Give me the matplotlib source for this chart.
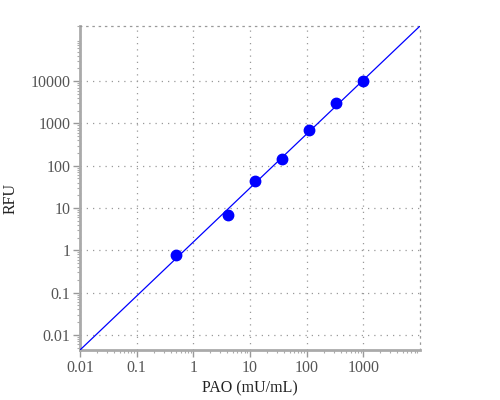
import numpy as np
import matplotlib
matplotlib.use("Agg")
import matplotlib.pyplot as plt
from matplotlib.ticker import LogLocator, FixedLocator, FixedFormatter, NullFormatter

pao = [0.49, 4.1, 12.3, 37, 111, 333, 1000]
rfu = [0.76, 6.8, 43.6, 141, 700, 2985, 10000]
xticks = [0.01, 0.1, 1, 10, 100, 1000]
xticklabels = ["0.01", "0.1", "1", "10", "100", "1000"]
yticks = [0.01, 0.1, 1, 10, 100, 1000, 10000]
yticklabels = ["0.01", "0.1", "1", "10", "100", "1000", "10000"]

plt.rcParams['font.family'] = ['Liberation Serif', 'DejaVu Serif']

fig = plt.figure(figsize=(5, 4), dpi=100)
ax = fig.add_axes([0.16, 0.125, 0.68, 0.81])
ax.set_xscale('log')
ax.set_yscale('log')

b, a = np.polyfit(np.log10(pao), np.log10(rfu), 1)
xl = np.array([0.01, 10000.0])
yl = 10 ** (a + b * np.log10(xl))
ax.plot(xl, yl, color='#0000ff', lw=0.9, zorder=3)
ax.plot(pao, rfu, 'o', color='#0000ff', ms=7.5, zorder=4)

ax.set_xlim(xl[0], xl[1])
ax.set_ylim(yl[0], yl[1])

ax.xaxis.set_major_locator(FixedLocator(xticks))
ax.xaxis.set_major_formatter(FixedFormatter(xticklabels))
ax.yaxis.set_major_locator(FixedLocator(yticks))
ax.yaxis.set_major_formatter(FixedFormatter(yticklabels))
ax.xaxis.set_minor_locator(LogLocator(base=10, subs=np.arange(2, 10), numticks=50))
ax.yaxis.set_minor_locator(LogLocator(base=10, subs=np.arange(2, 10), numticks=50))
ax.xaxis.set_minor_formatter(NullFormatter())
ax.yaxis.set_minor_formatter(NullFormatter())

ax.grid(True, which='major', color='#999999', linestyle=(0, (1, 4)), lw=0.9)
for s in ['left', 'bottom']:
    ax.spines[s].set_color('#aaaaaa')
    ax.spines[s].set_linewidth(2)
for s in ['top', 'right']:
    ax.spines[s].set_color('#999999')
    ax.spines[s].set_linestyle((0, (1, 4)))
    ax.spines[s].set_linewidth(0.9)

ax.tick_params(which='major', length=5, width=1, color='#999999', labelsize=11.5, labelcolor='#555555', pad=2)
ax.tick_params(which='minor', length=2.5, width=0.8, color='#aaaaaa')

ax.set_xlabel('PAO (mU/mL)', fontsize=11.5, color='#222222')
ax.xaxis.set_label_coords(0.5, -0.095)
fig.text(10.5 / 500, 1 - 198 / 400, 'RFU', rotation=90, ha='center', va='center',
         fontsize=11.5, color='#222222')

fig.savefig('out.png', dpi=100)
